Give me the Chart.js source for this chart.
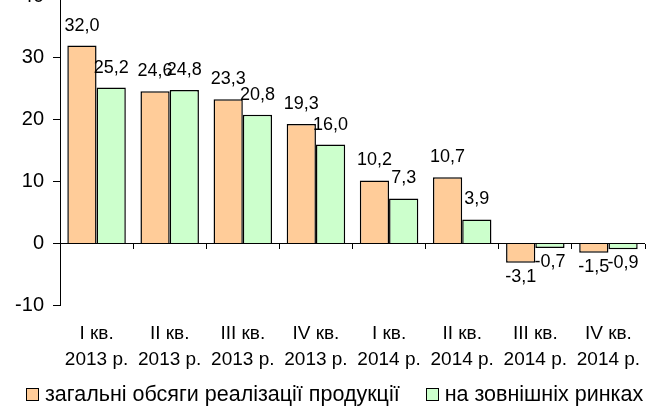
<!DOCTYPE html>
<html>
<head>
<meta charset="utf-8">
<script src="https://cdn.jsdelivr.net/npm/chart.js@4"></script>
<style>
  html, body { margin: 0; padding: 0; background: #fff; }
  #wrap { position: relative; width: 661px; height: 406px; overflow: hidden; }
  #chart { position: absolute; left: 0; top: -25px; }
  #legend {
    position: absolute; left: 26px; top: 382px;
    display: flex; align-items: center;
    font-family: 'Liberation Sans', Arial, sans-serif; font-size: 21.5px; line-height: 24px;
    color: #000; white-space: nowrap;
  }
  #legend .item { display: flex; align-items: center; margin-right: 26px; }
  #legend .box { width: 11px; height: 11px; border: 1px solid #000; margin-right: 6px; }
</style>
</head>
<body>
<div id="wrap">
  <canvas id="chart" width="661" height="431"></canvas>
  <div id="legend"></div>
</div>
<script>
// Catégories (trimestres)
var quarters = [
  ['I кв.', '2013 р.'], ['II кв.', '2013 р.'], ['III кв.', '2013 р.'], ['IV кв.', '2013 р.'],
  ['I кв.', '2014 р.'], ['II кв.', '2014 р.'], ['III кв.', '2014 р.'], ['IV кв.', '2014 р.']
];
var seriesNames = ['загальні обсяги реалізації продукції', 'на зовнішніх ринках'];
var seriesColors = ['#FFCC99', '#CCFFCC'];
var totalSales = [32.0, 24.6, 23.3, 19.3, 10.2, 10.7, -3.1, -1.5];
var externalSales = [25.2, 24.8, 20.8, 16.0, 7.3, 3.9, -0.7, -0.9];
var yTicks = [40, 30, 20, 10, 0, -10];

var fontFamily = "'Liberation Sans', Arial, sans-serif";

// Plugin pour afficher les valeurs au-dessus / en dessous des barres
var valueLabels = {
  id: 'valueLabels',
  afterDatasetsDraw: function(chart) {
    var ctx = chart.ctx;
    ctx.save();
    ctx.font = '18px ' + fontFamily;
    ctx.fillStyle = '#000';
    ctx.textAlign = 'center';
    chart.data.datasets.forEach(function(ds, i) {
      chart.getDatasetMeta(i).data.forEach(function(bar, j) {
        var v = ds.data[j];
        var txt = v.toFixed(1).replace('.', ',');
        if (v >= 0) {
          ctx.textBaseline = 'alphabetic';
          ctx.fillText(txt, bar.x, bar.y - 15);
        } else {
          ctx.textBaseline = 'top';
          ctx.fillText(txt, bar.x, bar.y + 5);
        }
      });
    });
    ctx.restore();
  }
};

var ctx = document.getElementById('chart').getContext('2d');
window.myChart = new Chart(ctx, {
  type: 'bar',
  data: {
    labels: quarters,
    datasets: [{
      label: seriesNames[0],
      data: totalSales,
      backgroundColor: seriesColors[0],
      borderColor: '#000',
      borderWidth: 1.5,
      categoryPercentage: 0.8,
      barPercentage: 1
    }, {
      label: seriesNames[1],
      data: externalSales,
      backgroundColor: seriesColors[1],
      borderColor: '#000',
      borderWidth: 1.5,
      categoryPercentage: 0.8,
      barPercentage: 1
    }]
  },
  options: {
    responsive: false,
    animation: false,
    devicePixelRatio: 1,
    layout: { padding: { top: 15, right: 16, left: 0, bottom: 26 } },
    plugins: {
      tooltip: { enabled: false },
      legend: { display: false }
    },
    scales: {
      x: {
        grid: { display: false },
        border: { display: false },
        ticks: {
          color: '#000',
          font: { family: fontFamily, size: 19, lineHeight: 1.33 },
          padding: 8,
          autoSkip: false,
          maxRotation: 0
        }
      },
      x2: {
        type: 'category',
        position: { y: 0 },
        offset: true,
        grid: {
          offset: true,
          drawOnChartArea: false,
          tickLength: 5,
          tickColor: '#000'
        },
        border: { display: false },
        ticks: { display: false }
      },
      y: {
        min: -10,
        max: 40,
        afterBuildTicks: function(scale) {
          scale.ticks = yTicks.map(function(v) { return { value: v }; });
        },
        afterFit: function(scale) { scale.width = 60; },
        border: { display: true, color: '#000', width: 1 },
        grid: {
          color: function(c) { return c.tick && c.tick.value === 0 ? '#000' : 'rgba(0,0,0,0)'; },
          tickColor: '#000',
          tickLength: 7
        },
        ticks: {
          color: '#000',
          font: { family: fontFamily, size: 20 },
          padding: 9
        }
      }
    }
  },
  plugins: [valueLabels]
});

// Légende en HTML
var legend = document.getElementById('legend');
seriesNames.forEach(function(name, i) {
  var item = document.createElement('span');
  item.className = 'item';
  var box = document.createElement('span');
  box.className = 'box';
  box.style.background = seriesColors[i];
  item.appendChild(box);
  item.appendChild(document.createTextNode(name));
  legend.appendChild(item);
});
</script>
</body>
</html>
